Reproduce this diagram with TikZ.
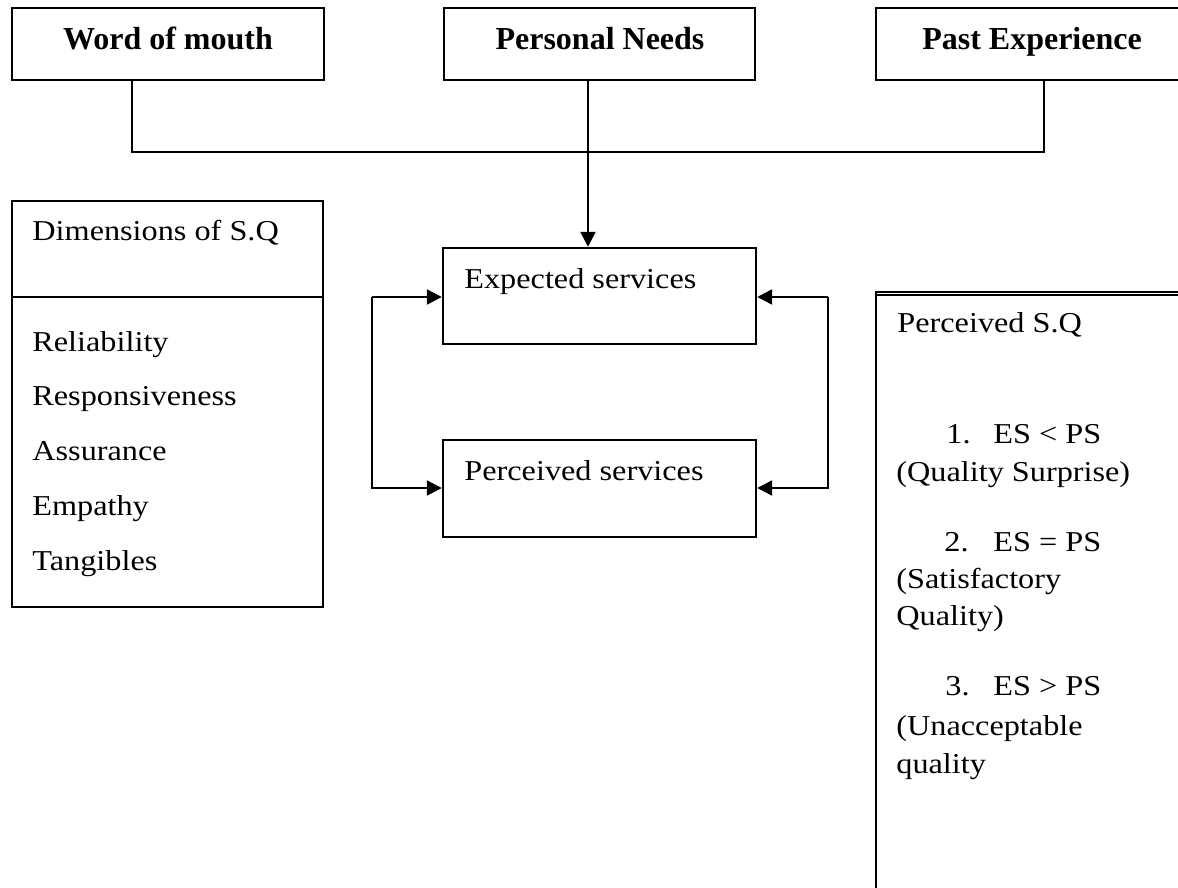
\documentclass[tikz,border=0pt]{standalone}
\usepackage{fontspec}
\setmainfont{Liberation Serif}
\newfontfamily\bodyfont[FakeStretch=1.12]{Liberation Serif}
\usetikzlibrary{arrows.meta,fit}
\begin{document}
\begin{tikzpicture}[x=0.5pt,y=-0.5pt,
  box/.style={draw,line width=1.2pt,rectangle,inner sep=0pt},
  lbl/.style={anchor=base west,inner sep=0pt,font=\bodyfont\fontsize{14.4pt}{17pt}\selectfont},
  head/.style={anchor=base,inner sep=0pt,font=\bfseries\fontsize{16pt}{19pt}\selectfont},
  link/.style={line width=1.2pt},
  arr/.style={link,-{Triangle[length=7.5pt,width=7.5pt]}},
]
\useasboundingbox (0,0) rectangle (1178,888);
\clip (0,0) rectangle (1178,888);

% influences on expectations
\node[box,fit={(12,8) (324,80)}] (wom) {};
\node[box,fit={(444,8) (755,80)}] (pn) {};
\node[box,fit={(876,8) (1188,80)}] (pe) {};
\node[head] (twom) at (168,50) {Word of mouth};
\node[head] (tpn) at (600,50) {Personal Needs};
\node[head] (tpe) at (1032,50) {Past Experience};

% expected / perceived services
\node[box,fit={(443,248) (756,344)}] (es) {};
\node[box,fit={(443,440) (756,537)}] (ps) {};
\node[lbl] (tes) at (464,288) {Expected services};
\node[lbl] (tps) at (464,480) {Perceived services};

% dimensions of service quality
\node[box,fit={(12,201) (323,607)}] (dim) {};
\coordinate (dsplit) at (12,297);
\draw[link] (dsplit) -- (dsplit -| dim.east);
\node[lbl] (tdim) at (32,240) {Dimensions of S.Q};
\node[lbl] (d1) at (32,351) {Reliability};
\node[lbl] (d2) at (32,405) {Responsiveness};
\node[lbl] (d3) at (32,460) {Assurance};
\node[lbl] (d4) at (32,515) {Empathy};
\node[lbl] (d5) at (32,570) {Tangibles};

% perceived service quality
\node[box,fit={(876,292) (1192,900)}] (psq) {};
\draw[link] ([yshift=-2pt]psq.north west) -- ([yshift=-2pt]psq.north east);
\node[lbl] (tpsq) at (897,332) {Perceived S.Q};
\node[lbl] (n1) at (946,443) {1.};
\node[lbl] (c1) at (993,443) {ES < PS};
\node[lbl] (r1) at (896,481) {(Quality Surprise)};
\node[lbl] (n2) at (944,551) {2.};
\node[lbl] (c2) at (993,551) {ES = PS};
\node[lbl] (r2a) at (896,588) {(Satisfactory};
\node[lbl] (r2b) at (896,625) {Quality)};
\node[lbl] (n3) at (945,695) {3.};
\node[lbl] (c3) at (993,695) {ES > PS};
\node[lbl] (r3a) at (896,735) {(Unacceptable};
\node[lbl] (r3b) at (896,773) {quality};

% connectors
\coordinate (j1) at (132,152);
\coordinate (j2) at (1044,152);
\coordinate (mid) at (588,152);
\draw[link] (wom.south -| j1) -- (j1) -- (j2) -- (pe.south -| j2);
\draw[arr] (pn.south -| mid) -- (es.north -| mid);

\coordinate (l1) at (372,297);
\coordinate (l2) at (372,488);
\coordinate (r1c) at (828,297);
\coordinate (r2c) at (828,488);
\draw[arr] (l1) -- (es.west |- l1);
\draw[arr] (l1) -- (l2) -- (ps.west |- l2);
\draw[arr] (r1c) -- (es.east |- r1c);
\draw[arr] (r1c) -- (r2c) -- (ps.east |- r2c);
\end{tikzpicture}
\end{document}
